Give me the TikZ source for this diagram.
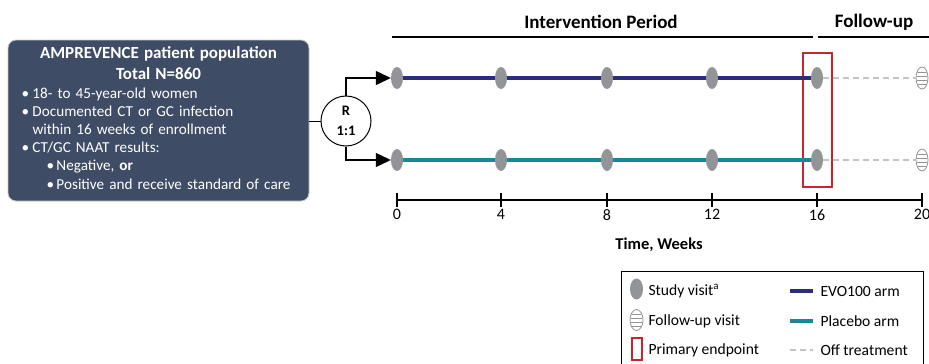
\documentclass[tikz,border=0pt]{standalone}
\usepackage{fontspec}
\setmainfont{Carlito}
\usepackage{xcolor}
\usepackage{tikz}
\usetikzlibrary{shapes.geometric, arrows.meta, positioning, calc}
\definecolor{popblue}{HTML}{3F4C65}
\definecolor{evonavy}{HTML}{2B2C7C}
\definecolor{plateal}{HTML}{17889A}
\definecolor{visitgray}{HTML}{929497}
\definecolor{offgray}{HTML}{C3C3C3}
\definecolor{endred}{HTML}{C8242C}
\tikzstyle{popbox} = [rectangle, rounded corners=8pt, fill=popblue, draw=gray!45, line width=0.8pt, text=white, minimum width=301pt, minimum height=161pt, text width=290pt, inner sep=5pt, font=\fontsize{15.2}{18.2}\selectfont]
\tikzstyle{randnode} = [circle, draw=black, fill=white, line width=1pt, minimum size=50pt, inner sep=0pt, align=center, font=\fontsize{14.5}{20}\selectfont\bfseries]
\tikzstyle{visit} = [ellipse, fill=visitgray, minimum width=12pt, minimum height=22pt, inner sep=0pt]
\tikzstyle{fuvisit} = [ellipse, draw=visitgray, fill=white, line width=0.8pt, minimum width=12pt, minimum height=22pt, inner sep=0pt]
\tikzstyle{endbox} = [rectangle, draw=endred, line width=2pt, inner sep=0pt]
\tikzstyle{hdr} = [font=\fontsize{19}{22}\selectfont\bfseries]
\tikzstyle{lbl} = [font=\fontsize{15.6}{18}\selectfont]
\tikzstyle{ticklbl} = [font=\fontsize{16}{18}\selectfont, anchor=north]
\tikzstyle{split} = [line width=1.2pt, -{Triangle[length=15pt, width=14pt]}]
\tikzstyle{evo} = [evonavy, line width=4pt]
\tikzstyle{pla} = [plateal, line width=4pt]
\tikzstyle{off} = [offgray, line width=1.3pt, dash pattern=on 6pt off 4pt]
\tikzstyle{rule} = [line width=1.3pt]

\begin{document}
\begin{tikzpicture}[x=1pt, y=-1pt]
    \clip (0,0) rectangle (929,364);

    % population and randomisation
    \node[popbox] (pop) at (158.5,120.5) {%
        {\centering\fontsize{17}{21}\selectfont\bfseries AMPREVENCE patient population\\Total N=860\par}
        \raggedright
        \hspace*{8pt}\makebox[11pt][l]{\textbullet}18- to 45-year-old women\\
        \hspace*{8pt}\makebox[11pt][l]{\textbullet}Documented CT or GC infection\\
        \hspace*{19pt}within 16 weeks of enrollment\\
        \hspace*{8pt}\makebox[11pt][l]{\textbullet}CT/GC NAAT results:\\
        \hspace*{33pt}\makebox[10pt][l]{\textbullet}Negative, \textbf{or}\\
        \hspace*{33pt}\makebox[10pt][l]{\textbullet}Positive and receive standard of care\par
        \vspace*{5pt}};
    \node[randnode] (rand) at (346,121) {R\\1:1};

    % visits
    \foreach \w/\x in {0/397, 4/501, 8/607, 12/712, 16/817} {
        \node[visit] (a\w) at (\x,78) {};
        \node[visit] (b\w) at (\x,160) {};
        \coordinate (t\w) at (\x,200);
        \node[ticklbl] (n\w) at (\x,206) {\w};
    }
    \node[fuvisit] (a20) at (922,78) {};
    \node[fuvisit] (b20) at (922,160) {};
    \coordinate (t20) at (922,200);
    \node[ticklbl] (n20) at (922,206) {20};
    \foreach \v in {a20, b20} {
        \begin{scope}
            \clip (\v.center) ellipse [x radius=5.6pt, y radius=10.6pt];
            \foreach \dy in {-6,-2,2,6}
                \draw[visitgray, line width=0.8pt] ($(\v.center)+(-8,\dy)$) -- ++(16,0);
        \end{scope}
    }
    \node[endbox, minimum width=29pt, minimum height=134pt] (endpt) at (817.5,120) {};

    % arms
    \draw (pop.east |- rand) -- (rand.west);
    \draw[split] (rand.north) |- (a0.west);
    \draw[split] (rand.south) |- (b0.west);
    \foreach \p/\q in {0/4, 4/8, 8/12, 12/16} {
        \draw[evo] (a\p) -- (a\q);
        \draw[pla] (b\p) -- (b\q);
    }
    \draw[off] (a16) -- (a20);
    \draw[off] (b16) -- (b20);

    % periods
    \node[hdr] (ivp) at (601,22) {Intervention Period};
    \node[hdr] (fup) at (874,22) {Follow-up};
    \draw[rule] (392,37) -- (813,37);
    \draw[rule] (818,37) -- (935,37);

    % time axis
    \draw[rule] (t0) -- (t20);
    \foreach \w in {0,4,8,12,16,20}
        \draw[rule] ($(t\w)+(0,-7)$) -- ($(t\w)+(0,7)$);
    \node[font=\fontsize{16.5}{19}\selectfont\bfseries] (time) at (659,245) {Time, Weeks};

    % legend
    \node[rectangle, draw=black, line width=1.3pt, minimum width=302pt, minimum height=120pt, anchor=north west] (legend) at (621,271) {};
    \node[visit, minimum width=13pt, minimum height=21pt] (lgvisit) at (636.5,289) {};
    \node[lbl, anchor=west] (lgvisittxt) at (645,291) {Study visit\textsuperscript{a}};
    \node[fuvisit, minimum width=13pt, minimum height=21pt] (lgfu) at (636.5,320) {};
    \begin{scope}
        \clip (lgfu.center) ellipse [x radius=6.1pt, y radius=10.1pt];
        \foreach \dy in {-6,-2,2,6}
            \draw[visitgray, line width=0.8pt] ($(lgfu.center)+(-8,\dy)$) -- ++(16,0);
    \end{scope}
    \node[lbl, anchor=west] (lgfutxt) at (645,321) {Follow-up visit};
    \node[endbox, minimum width=10pt, minimum height=22pt] (lgend) at (637,349) {};
    \node[lbl, anchor=west] (lgendtxt) at (645,350) {Primary endpoint};
    \coordinate (lgevo) at (790,291);
    \draw[evo] (lgevo) -- ++(23,0);
    \node[lbl, anchor=west] (lgevotxt) at (817,291) {EVO100 arm};
    \coordinate (lgpla) at (790,321);
    \draw[pla] (lgpla) -- ++(23,0);
    \node[lbl, anchor=west] (lgplatxt) at (817,321) {Placebo arm};
    \coordinate (lgoff) at (790,350);
    \draw[off] (lgoff) -- ++(23,0);
    \node[lbl, anchor=west] (lgofftxt) at (817,350) {Off treatment};
\end{tikzpicture}
\end{document}
